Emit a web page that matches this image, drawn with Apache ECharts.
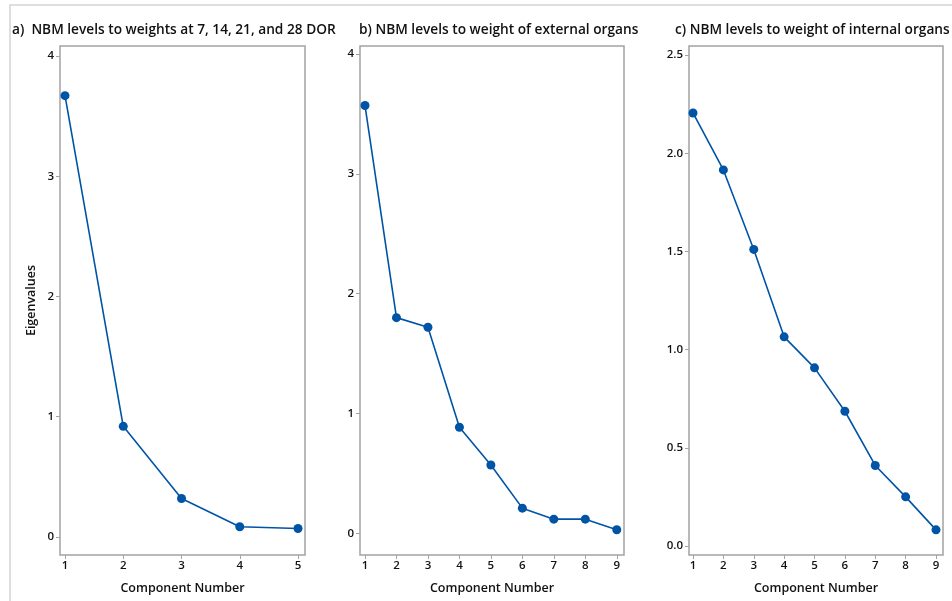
<!DOCTYPE html>
<html>
<head>
<meta charset="utf-8">
<script src="https://cdn.jsdelivr.net/npm/echarts@6/dist/echarts.min.js"></script>
<style>
  html, body { margin: 0; padding: 0; background: #fff; }
  #chart { width: 952px; height: 601px; }
</style>
</head>
<body>
<div id="chart"></div>
<script>
// ---------- data ----------
const titles = [
  'a)  NBM levels to weights at 7, 14, 21, and 28 DOR',
  'b) NBM levels to weight of external organs',
  'c) NBM levels to weight of internal organs',
]
const compA = [1, 2, 3, 4, 5]
const eigA = [3.67, 0.92, 0.32, 0.085, 0.07]
const compB = [1, 2, 3, 4, 5, 6, 7, 8, 9]
const eigB = [3.57, 1.80, 1.72, 0.885, 0.57, 0.21, 0.118, 0.118, 0.03]
const compC = [1, 2, 3, 4, 5, 6, 7, 8, 9]
const eigC = [2.205, 1.915, 1.51, 1.065, 0.907, 0.686, 0.41, 0.25, 0.082]

const yTicksAB = [0, 1, 2, 3, 4]
const yTicksC = [0, 0.5, 1.0, 1.5, 2.0, 2.5]

const LINE = '#0054a6'
const FRAME = '#a3a3a3'
const FONT = '"Open Sans", "Noto Sans", sans-serif'

// panel frames (Minitab leaves a margin between ticks and frame)
const panels = [
  { left: 60, width: 245, xMin: 0.914, xMax: 5.12, yMin: -0.15, yMax: 4.083, xs: compA, ys: eigA, yTicks: yTicksAB, fmt: (v) => String(v), yName: 'Eigenvalues' },
  { left: 360, width: 264, xMin: 0.841, xMax: 9.23, yMin: -0.181, yMax: 4.067, xs: compB, ys: eigB, yTicks: yTicksAB, fmt: (v) => String(v), yName: '' },
  { left: 689, width: 254, xMin: 0.868, xMax: 9.23, yMin: -0.046, yMax: 2.546, xs: compC, ys: eigC, yTicks: yTicksC, fmt: (v) => v.toFixed(1), yName: '' },
]

const titleLefts = [12, 359, 675]

const tickStyle = { show: true, length: 4, lineStyle: { color: FRAME, width: 1 } }
const labelStyle = { color: '#111', fontSize: 11.5, fontWeight: 600, fontFamily: FONT }
const nameStyle = { color: '#111', fontSize: 12.5, fontWeight: 600, fontFamily: FONT }

const option = {
  animation: false,
  backgroundColor: '#fff',
  graphic: [{
    type: 'rect', silent: true,
    shape: { x: 10, y: 5, width: 960, height: 620 },
    style: { fill: 'none', stroke: '#d3d3d3', lineWidth: 1.5 },
  }],
  title: titles.map((t, i) => ({
    text: t, left: titleLefts[i], top: 23, padding: 0,
    textStyle: { fontSize: 13.7, fontWeight: 600, color: '#111', fontFamily: FONT },
  })),
  grid: panels.map((p) => ({
    left: p.left, top: 46, width: p.width, height: 509,
    show: true, borderColor: FRAME, borderWidth: 1.5, backgroundColor: '#fff',
  })),
  xAxis: panels.map((p, i) => ({
    type: 'value', gridIndex: i, min: p.xMin, max: p.xMax,
    name: 'Component Number', nameLocation: 'middle', nameGap: 27,
    nameTextStyle: nameStyle,
    axisLine: { show: false, onZero: false },
    axisTick: Object.assign({ customValues: p.xs }, tickStyle),
    axisLabel: Object.assign({ customValues: p.xs, margin: 5, formatter: (v) => String(v) }, labelStyle),
    splitLine: { show: false },
  })),
  yAxis: panels.map((p, i) => ({
    type: 'value', gridIndex: i, min: p.yMin, max: p.yMax,
    name: p.yName, nameLocation: 'middle', nameGap: 22, nameRotate: 90,
    nameTextStyle: nameStyle,
    axisLine: { show: false, onZero: false },
    axisTick: Object.assign({ customValues: p.yTicks }, tickStyle),
    axisLabel: Object.assign({ customValues: p.yTicks, margin: 6, formatter: p.fmt }, labelStyle),
    splitLine: { show: false },
  })),
  series: panels.map((p, i) => ({
    type: 'line', xAxisIndex: i, yAxisIndex: i,
    data: p.xs.map((x, k) => [x, p.ys[k]]),
    symbol: 'circle', symbolSize: 9,
    lineStyle: { color: LINE, width: 1.6 },
    itemStyle: { color: LINE },
  })),
}

const chart = echarts.init(document.getElementById('chart'))
chart.setOption(option)
</script>
</body>
</html>
